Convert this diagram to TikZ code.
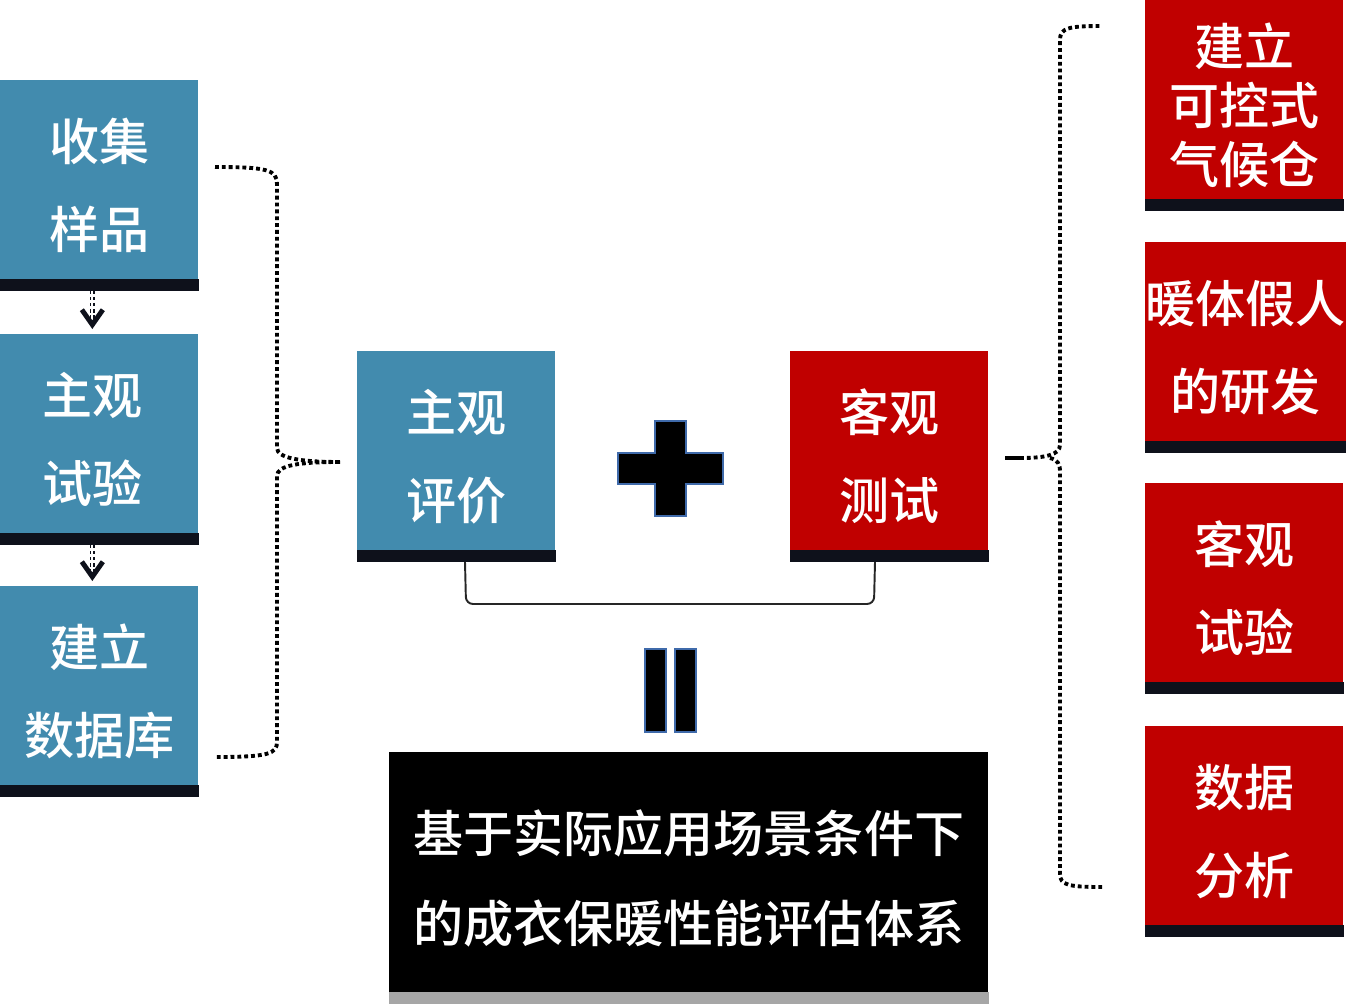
\documentclass[tikz,border=0pt]{standalone}
\usepackage{fontspec}
\newfontfamily\cjk{Noto Sans CJK SC}[BoldFont={Noto Sans CJK SC Medium}]
\usetikzlibrary{arrows.meta, positioning, calc}
\definecolor{myblue}{RGB}{66,139,174}
\definecolor{myred}{RGB}{192,0,0}
\definecolor{mybar}{RGB}{14,17,27}
\definecolor{mygray}{RGB}{166,166,166}
\definecolor{myedge}{RGB}{63,106,170}
\tikzset{
  bluebox/.style={rectangle, fill=myblue, anchor=north west, inner sep=0pt,
    minimum width=3.96cm, minimum height=4.2cm, text=white, align=center,
    font=\cjk\bfseries\fontsize{28.5}{50}\selectfont},
  redbox/.style={bluebox, fill=myred},
  sysbox/.style={bluebox, fill=black, minimum width=11.98cm, minimum height=5.04cm,
    font=\cjk\bfseries\fontsize{28.5}{51}\selectfont},
  dbldash/.style={draw=mybar, line width=0.7pt, double=white, double distance=1.3pt,
    dash pattern=on 2pt off 1.5pt},
  vtip/.style={draw=mybar, -{Straight Barb[length=0.3cm, width=0.42cm, line width=2.8pt]}},
  dotbrace/.style={draw=black, line width=2.2pt, dash pattern=on 2.2pt off 1.7pt},
  bracket/.style={draw=black!85, line width=1.1pt, rounded corners=4pt},
  sign/.style={fill=black, draw=myedge, line width=1.2pt}
}

\begin{document}
\begin{tikzpicture}[x=0.02cm, y=-0.02cm]
  \useasboundingbox (0,0) rectangle (1370,1004);

  % left column
  \node[bluebox] (collect) at (0,80) {收集\\样品};
  \node[bluebox] (subtest) at (0,334) {主观\hspace*{0.28cm}\\试验\hspace*{0.28cm}};
  \node[bluebox] (database) at (0,586) {建立\\数据库};

  % middle
  \node[bluebox] (subeval) at (357,351) {主观\\评价};
  \node[redbox] (objtest) at (790,351) {客观\\测试};
  \node[sysbox] (system) at (389,752) {基于实际应用场景条件下\\的成衣保暖性能评估体系};

  % right column
  \node[redbox, font=\cjk\bfseries\fontsize{28.5}{33.5}\selectfont] (chamber) at (1145,0) {建立\\可控式\\气候仓};
  \node[redbox] (manikin) at (1145,242) {暖体假人\\的研发};
  \node[redbox] (objexp) at (1145,483) {客观\\试验};
  \node[redbox] (analysis) at (1145,726) {数据\\分析};

  \foreach \n in {collect,subtest,database,subeval,objtest,chamber,manikin,objexp,analysis}
    \fill[mybar] (\n.south west) rectangle ([yshift=0.24cm]\n.south east);
  \fill[mygray] (system.south west) rectangle ([yshift=0.26cm]system.south east);

  % arrows between left boxes
  \draw[dbldash] ([xshift=-0.14cm]collect.south) -- ([xshift=-0.14cm,yshift=0.3cm]subtest.north);
  \draw[vtip] ([xshift=-0.14cm,yshift=0.16cm]subtest.north) -- ([xshift=-0.14cm,yshift=0.1cm]subtest.north);
  \draw[dbldash] ([xshift=-0.14cm]subtest.south) -- ([xshift=-0.14cm,yshift=0.3cm]database.north);
  \draw[vtip] ([xshift=-0.14cm,yshift=0.16cm]database.north) -- ([xshift=-0.14cm,yshift=0.1cm]database.north);

  % left brace
  \coordinate (lbtip) at (340,462);
  \draw[dotbrace] (215,167) .. controls (268,167) and (277,170) .. (277,184) -- (277,448)
    .. controls (277,458) and (300,462) .. (lbtip);
  \draw[dotbrace] (lbtip) .. controls (300,462) and (277,465) .. (277,476) -- (277,742)
    .. controls (277,754) and (268,757) .. (215,757);

  % right brace
  \coordinate (rbtip) at (1005,458);
  \draw[line width=2.2pt] (rbtip) -- (1020,458);
  \draw[dotbrace] (1020,458) .. controls (1045,458) and (1060,455) .. (1060,445) -- (1060,40)
    .. controls (1060,28) and (1068,26) .. (1102,26);
  \draw[dotbrace] (1050,458) .. controls (1058,460) and (1060,464) .. (1060,472) -- (1060,874)
    .. controls (1060,885) and (1068,887) .. (1102,887);

  % plus sign
  \draw[sign] (655,421) -- (686,421) -- (686,453) -- (723,453) -- (723,484) -- (686,484)
    -- (686,516) -- (655,516) -- (655,484) -- (618,484) -- (618,453) -- (655,453) -- cycle;

  % bracket under the two boxes
  \draw[bracket] (465,562) -- (466,604) -- (874,604) -- (875,562);

  % equals sign
  \draw[sign] (645,649) rectangle (666,732);
  \draw[sign] (675,649) rectangle (696,732);

\end{tikzpicture}
\end{document}
